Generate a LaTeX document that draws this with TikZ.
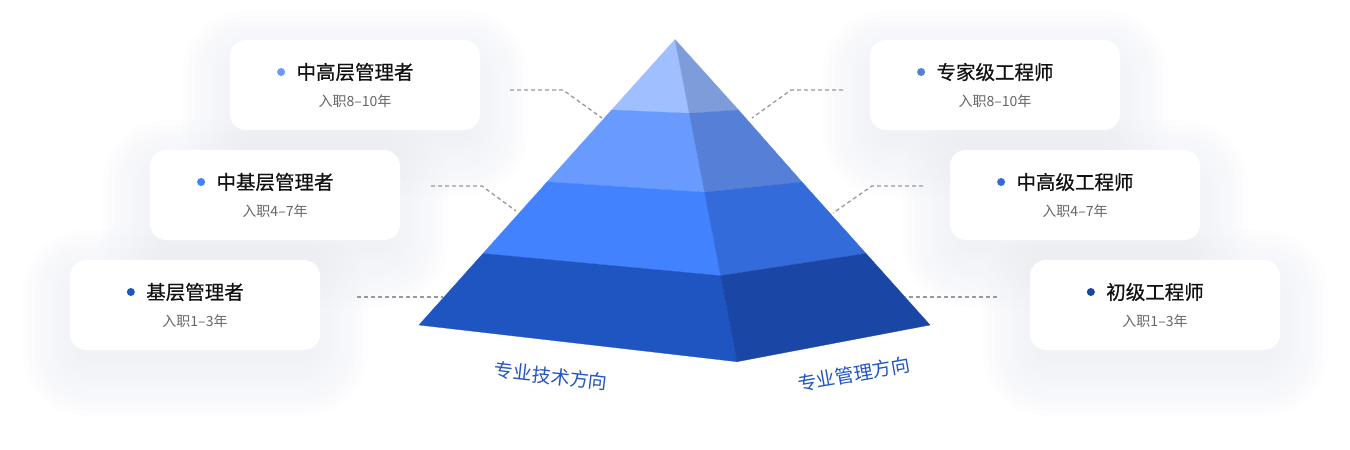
\documentclass[tikz,border=0pt]{standalone}
\usepackage{fontspec}
\setmainfont{Noto Sans CJK SC}
\newfontfamily\cjkt[FakeBold=0.6]{Noto Sans CJK SC}
\usetikzlibrary{positioning,calc}
\definecolor{fa1}{HTML}{A0BFFE}
\definecolor{fb1}{HTML}{7D9CD9}
\definecolor{fa2}{HTML}{699AFD}
\definecolor{fb2}{HTML}{5680D8}
\definecolor{fa3}{HTML}{4282FE}
\definecolor{fb3}{HTML}{346BDA}
\definecolor{fa4}{HTML}{1F55C0}
\definecolor{fb4}{HTML}{1A46A6}
\definecolor{tblack}{HTML}{111111}
\definecolor{tgray}{HTML}{666666}
\definecolor{dgray}{HTML}{999999}
\definecolor{dirblue}{HTML}{2256C2}
\definecolor{shc}{HTML}{C2C6D0}
\newcommand\cardshadow[1]{%
  \foreach \i in {1,...,10}{%
    \pgfmathsetmacro\e{-12+6*\i}%
    \pgfmathsetmacro\r{max(16+\e,2)}%
    \fill[shc, opacity=0.02, rounded corners=\r pt]
      ($(#1)+(-125-\e,-45-\e+18)$) rectangle ($(#1)+(125+\e,45+\e+18)$);}%
}
\begin{document}
\begin{tikzpicture}[x=1pt,y=-1pt,
 card/.style={fill=white, rounded corners=16pt, minimum width=250pt, minimum height=90pt, inner sep=0pt},
 ttl/.style={font=\cjkt\fontsize{19.5}{19.5}\selectfont, text=tblack, inner sep=0pt},
 sub/.style={font=\fontsize{14}{14}\selectfont, text=tgray, inner sep=0pt},
 dotn/.style={circle, minimum size=8pt, inner sep=0pt, left=11pt of #1},
 lead/.style={draw=dgray, dash pattern=on 4pt off 3pt, line width=1.3pt},
 dir/.style={font=\fontsize{19}{19}\selectfont, text=dirblue, inner sep=0pt},
 face/.style={fill=#1, draw=#1, line width=0.3pt, line join=round}]
\useasboundingbox (0,0) rectangle (1350,450);
\fill[white] (0,0) rectangle (1350,450);

% card centres
\coordinate (k1) at (355,85);
\coordinate (k2) at (275,195);
\coordinate (k3) at (195,305);
\coordinate (k4) at (995,85);
\coordinate (k5) at (1075,195);
\coordinate (k6) at (1155,305);

% soft shadows
\cardshadow{k1}\cardshadow{k2}\cardshadow{k3}
\cardshadow{k4}\cardshadow{k5}\cardshadow{k6}

% cards left
\node[card] (c1) at (k1) {};
\node[ttl] (t1) at (355,72) {中高层管理者};
\node[dotn=t1, fill=fa2] (d1) {};
\node[sub] (s1) at (355,101) {入职8–10年};

\node[card] (c2) at (k2) {};
\node[ttl] (t2) at (275,182) {中基层管理者};
\node[dotn=t2, fill=fa3] (d2) {};
\node[sub] (s2) at (275,211) {入职4–7年};

\node[card] (c3) at (k3) {};
\node[ttl] (t3) at (195,292) {基层管理者};
\node[dotn=t3, fill=fa4] (d3) {};
\node[sub] (s3) at (195,321.5) {入职1–3年};

% cards right
\node[card] (c4) at (k4) {};
\node[ttl] (t4) at (995,72) {专家级工程师};
\node[dotn=t4, fill=fb2] (d4) {};
\node[sub] (s4) at (995,101) {入职8–10年};

\node[card] (c5) at (k5) {};
\node[ttl] (t5) at (1075,182) {中高级工程师};
\node[dotn=t5, fill=fb3] (d5) {};
\node[sub] (s5) at (1075,211) {入职4–7年};

\node[card] (c6) at (k6) {};
\node[ttl] (t6) at (1155,292) {初级工程师};
\node[dotn=t6, fill=fb4] (d6) {};
\node[sub] (s6) at (1155,321.5) {入职1–3年};

% pyramid coordinates
\coordinate (A) at (675,39.5);
\coordinate (L1) at (611.6,110);
\coordinate (M1) at (689.3,113.3);
\coordinate (R1) at (738.5,110);
\coordinate (L2) at (547.2,181.8);
\coordinate (M2) at (704.6,192.3);
\coordinate (R2) at (802,182);
\coordinate (L3) at (483,253.5);
\coordinate (M3) at (720.6,275.7);
\coordinate (R3) at (866,253.5);
\coordinate (L4) at (419,325);
\coordinate (M4) at (737,361.7);
\coordinate (R4) at (930,325);

\filldraw[face=fa1] (A) -- (L1) -- (M1) -- cycle;
\filldraw[face=fb1] (A) -- (M1) -- (R1) -- cycle;
\filldraw[face=fa2] (L1) -- (L2) -- (M2) -- (M1) -- cycle;
\filldraw[face=fb2] (M1) -- (M2) -- (R2) -- (R1) -- cycle;
\filldraw[face=fa3] (L2) -- (L3) -- (M3) -- (M2) -- cycle;
\filldraw[face=fb3] (M2) -- (M3) -- (R3) -- (R2) -- cycle;
\filldraw[face=fa4] (L3) -- (L4) -- (M4) -- (M3) -- cycle;
\filldraw[face=fb4] (M3) -- (M4) -- (R4) -- (R3) -- cycle;

% leader lines
\coordinate (p1a) at (510,90);  \coordinate (p1b) at (563,90);  \coordinate (p1c) at (602,118);
\coordinate (p2a) at (431,186); \coordinate (p2b) at (482,186); \coordinate (p2c) at (516,211);
\coordinate (p3a) at (357,297); \coordinate (p3b) at (443,297);
\coordinate (q1a) at (843,90);  \coordinate (q1b) at (791,90);  \coordinate (q1c) at (752,118);
\coordinate (q2a) at (923,186); \coordinate (q2b) at (872,186); \coordinate (q2c) at (833,213);
\coordinate (q3a) at (997,297); \coordinate (q3b) at (905,297);
\draw[lead] (p1a) -- (p1b) -- (p1c);
\draw[lead] (p2a) -- (p2b) -- (p2c);
\draw[lead] (p3a) -- (p3b);
\draw[lead] (q1a) -- (q1b) -- (q1c);
\draw[lead] (q2a) -- (q2b) -- (q2c);
\draw[lead] (q3a) -- (q3b);

% direction labels
\node[dir, rotate=-6.5] (dl) at (551,376) {专业技术方向};
\node[dir, rotate=10] (dr) at (854,374) {专业管理方向};
\end{tikzpicture}
\end{document}
